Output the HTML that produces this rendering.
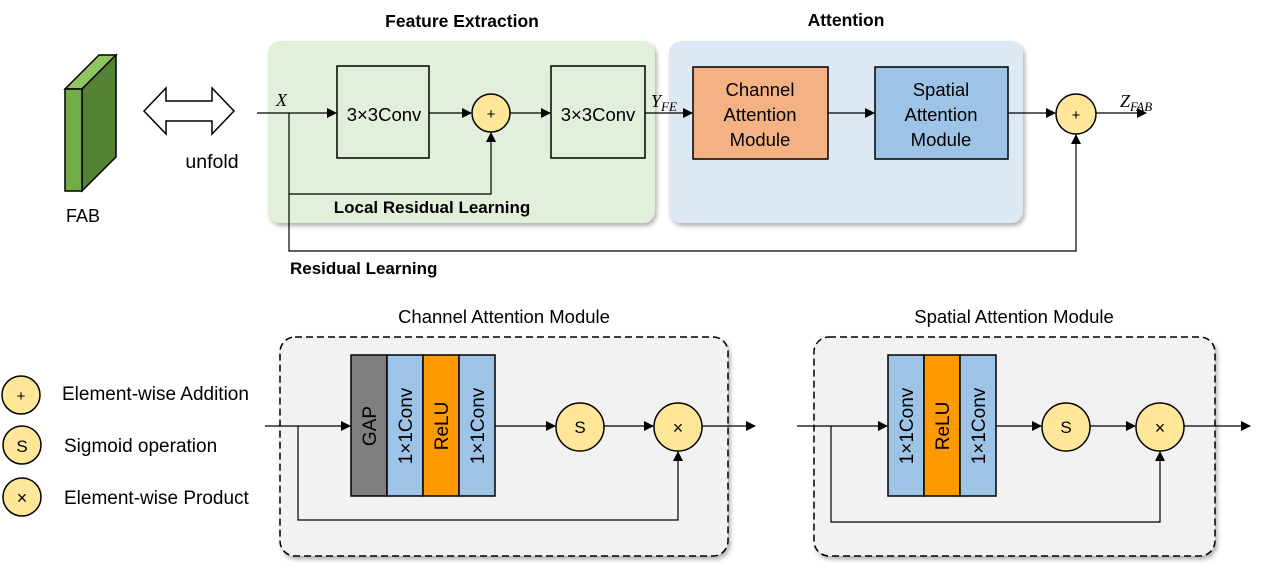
<!DOCTYPE html>
<html><head><meta charset="utf-8"><style>
html,body{margin:0;padding:0;background:#fff;}
svg{display:block;font-family:"Liberation Sans",sans-serif;}
</style></head><body>
<svg width="1263" height="571" viewBox="0 0 1263 571" xmlns="http://www.w3.org/2000/svg">
<defs>
<marker id="a" markerWidth="10" markerHeight="10" refX="9" refY="5" orient="auto" markerUnits="userSpaceOnUse"><path d="M0,0 L10,5 L0,10 z" fill="#000"/></marker>
<filter id="sh" x="-5%" y="-5%" width="110%" height="115%"><feDropShadow dx="2" dy="3" stdDeviation="2" flood-color="#000" flood-opacity="0.3"/></filter>
</defs>
<text x="462" y="27" font-size="17.5" font-weight="bold" text-anchor="middle">Feature Extraction</text>
<text x="846" y="26" font-size="17.5" font-weight="bold" text-anchor="middle">Attention</text>
<rect x="268" y="41" width="387" height="182" rx="12" fill="#e2efda" filter="url(#sh)"/>
<rect x="669" y="41" width="354" height="182" rx="12" fill="#dde8f5" filter="url(#sh)"/>
<polygon points="65,89 82,89 116,55 99,55" fill="#8fc45f" stroke="#000" stroke-width="1.5"/>
<polygon points="82,89 116,55 116,157 82,191" fill="#548235" stroke="#000" stroke-width="1.5"/>
<rect x="65" y="89" width="17" height="102" fill="#70ad47" stroke="#000" stroke-width="1.5"/>
<text x="83" y="222" font-size="18" text-anchor="middle">FAB</text>
<polygon points="144,111 166,88 166,101 212,101 212,88 234,111 212,134 212,121 166,121 166,134" fill="#fff" stroke="#000" stroke-width="1.5"/>
<text x="212" y="168" font-size="19.5" text-anchor="middle">unfold</text>
<text x="276" y="106" font-size="18" font-style="italic" font-family="Liberation Serif,serif">X</text>
<line x1="257" y1="113" x2="336" y2="113" stroke="#000" stroke-width="1.2" marker-end="url(#a)"/>
<rect x="337" y="66" width="92" height="92" fill="none" stroke="#000" stroke-width="1.5"/>
<text x="384" y="121" font-size="18.5" text-anchor="middle">3×3Conv</text>
<line x1="429" y1="113" x2="471" y2="113" stroke="#000" stroke-width="1.2" marker-end="url(#a)"/>
<circle cx="491" cy="113" r="19" fill="#ffe699" stroke="#000" stroke-width="1.5"/>
<text x="491" y="119" font-size="15" text-anchor="middle">+</text>
<line x1="510" y1="113" x2="550" y2="113" stroke="#000" stroke-width="1.2" marker-end="url(#a)"/>
<rect x="551" y="66" width="94" height="92" fill="none" stroke="#000" stroke-width="1.5"/>
<text x="598" y="121" font-size="18.5" text-anchor="middle">3×3Conv</text>
<text x="651" y="107" font-size="18" font-style="italic" font-family="Liberation Serif,serif">Y<tspan font-size="13" dy="4">FE</tspan></text>
<line x1="645" y1="113" x2="692" y2="113" stroke="#000" stroke-width="1.2" marker-end="url(#a)"/>
<rect x="693" y="67" width="135" height="92" fill="#f4b183" stroke="#000" stroke-width="1.5"/>
<text x="760" y="96" font-size="18.5" text-anchor="middle">Channel</text>
<text x="760" y="121" font-size="18.5" text-anchor="middle">Attention</text>
<text x="760" y="146" font-size="18.5" text-anchor="middle">Module</text>
<line x1="828" y1="113" x2="874" y2="113" stroke="#000" stroke-width="1.2" marker-end="url(#a)"/>
<rect x="875" y="67" width="133" height="92" fill="#9dc3e6" stroke="#000" stroke-width="1.5"/>
<text x="941" y="96" font-size="18.5" text-anchor="middle">Spatial</text>
<text x="941" y="121" font-size="18.5" text-anchor="middle">Attention</text>
<text x="941" y="146" font-size="18.5" text-anchor="middle">Module</text>
<line x1="1008" y1="113" x2="1055" y2="113" stroke="#000" stroke-width="1.2" marker-end="url(#a)"/>
<circle cx="1076" cy="114" r="20" fill="#ffe699" stroke="#000" stroke-width="1.5"/>
<text x="1076" y="120" font-size="15" text-anchor="middle">+</text>
<line x1="1096" y1="113" x2="1146" y2="113" stroke="#000" stroke-width="1.2" marker-end="url(#a)"/>
<text x="1120" y="107" font-size="18" font-style="italic" font-family="Liberation Serif,serif">Z<tspan font-size="13" dy="4">FAB</tspan></text>
<polyline points="289,113 289,194 491,194 491,133" fill="none" stroke="#000" stroke-width="1.2" marker-end="url(#a)"/>
<text x="432" y="213" font-size="17" font-weight="bold" text-anchor="middle">Local Residual Learning</text>
<polyline points="289,194 289,251 1076,251 1076,135" fill="none" stroke="#000" stroke-width="1.2" marker-end="url(#a)"/>
<text x="290" y="274" font-size="17" font-weight="bold">Residual Learning</text>
<g font-size="19">
<circle cx="21" cy="395" r="19" fill="#ffe699" stroke="#000" stroke-width="1.5"/><text x="21" y="401" font-size="15" text-anchor="middle">+</text>
<text x="62" y="400">Element-wise Addition</text>
<circle cx="22" cy="445" r="19" fill="#ffe699" stroke="#000" stroke-width="1.5"/><text x="22" y="452" font-size="17" text-anchor="middle">S</text>
<text x="64" y="452">Sigmoid operation</text>
<circle cx="22" cy="497" r="19" fill="#ffe699" stroke="#000" stroke-width="1.5"/><text x="22" y="504" font-size="18" text-anchor="middle">×</text>
<text x="64" y="504">Element-wise Product</text>
</g>
<text x="504" y="323" font-size="18.5" text-anchor="middle">Channel Attention Module</text>
<rect x="280" y="337" width="448" height="219" rx="15" fill="#f2f2f2" stroke="#000" stroke-width="1.5" stroke-dasharray="7,4" filter="url(#sh)"/>
<line x1="265" y1="426" x2="350" y2="426" stroke="#000" stroke-width="1.2" marker-end="url(#a)"/>
<rect x="351" y="355" width="36" height="141" fill="#7f7f7f" stroke="#000" stroke-width="1.5"/>
<rect x="387" y="355" width="36" height="141" fill="#9dc3e6" stroke="#000" stroke-width="1.5"/>
<rect x="423" y="355" width="36" height="141" fill="#ff9900" stroke="#000" stroke-width="1.5"/>
<rect x="459" y="355" width="36" height="141" fill="#9dc3e6" stroke="#000" stroke-width="1.5"/>
<g font-size="19" text-anchor="middle">
<text transform="translate(376,426) rotate(-90)">GAP</text>
<text transform="translate(412,426) rotate(-90)">1×1Conv</text>
<text transform="translate(448,426) rotate(-90)">ReLU</text>
<text transform="translate(484,426) rotate(-90)">1×1Conv</text>
</g>
<line x1="495" y1="426" x2="555" y2="426" stroke="#000" stroke-width="1.2" marker-end="url(#a)"/>
<circle cx="580" cy="427" r="24" fill="#ffe699" stroke="#000" stroke-width="1.5"/><text x="580" y="433" font-size="17" text-anchor="middle">S</text>
<line x1="604" y1="426" x2="653" y2="426" stroke="#000" stroke-width="1.2" marker-end="url(#a)"/>
<circle cx="678" cy="427" r="24" fill="#ffe699" stroke="#000" stroke-width="1.5"/><text x="678" y="434" font-size="18" text-anchor="middle">×</text>
<line x1="702" y1="426" x2="755" y2="426" stroke="#000" stroke-width="1.2" marker-end="url(#a)"/>
<polyline points="298,426 298,520 678,520 678,452" fill="none" stroke="#000" stroke-width="1.2" marker-end="url(#a)"/>
<text x="1014" y="323" font-size="18.5" text-anchor="middle">Spatial Attention Module</text>
<rect x="814" y="337" width="401" height="219" rx="15" fill="#f2f2f2" stroke="#000" stroke-width="1.5" stroke-dasharray="7,4" filter="url(#sh)"/>
<line x1="797" y1="426" x2="887" y2="426" stroke="#000" stroke-width="1.2" marker-end="url(#a)"/>
<rect x="888" y="355" width="36" height="141" fill="#9dc3e6" stroke="#000" stroke-width="1.5"/>
<rect x="924" y="355" width="36" height="141" fill="#ff9900" stroke="#000" stroke-width="1.5"/>
<rect x="960" y="355" width="36" height="141" fill="#9dc3e6" stroke="#000" stroke-width="1.5"/>
<g font-size="19" text-anchor="middle">
<text transform="translate(913,426) rotate(-90)">1×1Conv</text>
<text transform="translate(949,426) rotate(-90)">ReLU</text>
<text transform="translate(985,426) rotate(-90)">1×1Conv</text>
</g>
<line x1="996" y1="426" x2="1041" y2="426" stroke="#000" stroke-width="1.2" marker-end="url(#a)"/>
<circle cx="1066" cy="427" r="24" fill="#ffe699" stroke="#000" stroke-width="1.5"/><text x="1066" y="433" font-size="17" text-anchor="middle">S</text>
<line x1="1090" y1="426" x2="1135" y2="426" stroke="#000" stroke-width="1.2" marker-end="url(#a)"/>
<circle cx="1160" cy="427" r="24" fill="#ffe699" stroke="#000" stroke-width="1.5"/><text x="1160" y="434" font-size="18" text-anchor="middle">×</text>
<line x1="1184" y1="426" x2="1250" y2="426" stroke="#000" stroke-width="1.2" marker-end="url(#a)"/>
<polyline points="831,426 831,522 1160,522 1160,452" fill="none" stroke="#000" stroke-width="1.2" marker-end="url(#a)"/>
</svg>
</body></html>
